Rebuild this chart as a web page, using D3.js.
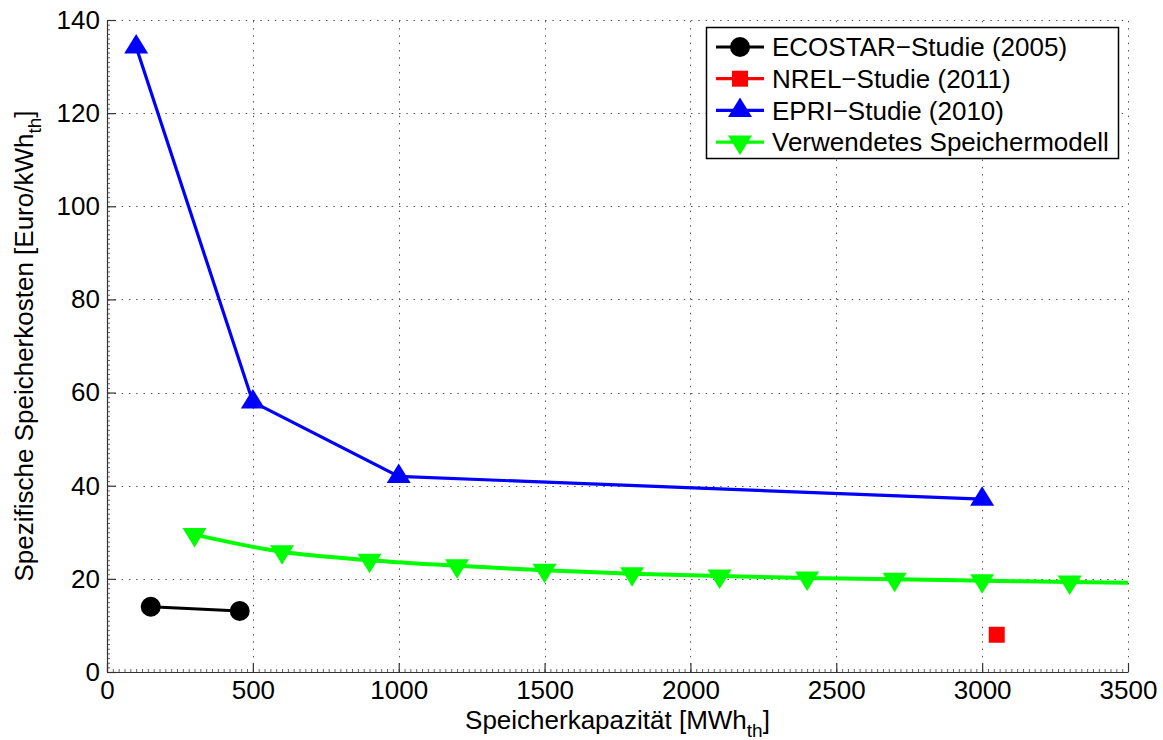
<!DOCTYPE html>
<html>
<head>
<meta charset="utf-8">
<script src="https://cdn.jsdelivr.net/npm/d3@7"></script>
<style>
  html, body { margin: 0; padding: 0; background: #fff; }
  svg { display: block; }
  text { font-family: "Liberation Sans", Arial, Helvetica, sans-serif; fill: #000; }
</style>
</head>
<body>
<svg id="chart" width="1163" height="740"></svg>
<script>
// ---- data ----
const xTicks = [0, 500, 1000, 1500, 2000, 2500, 3000, 3500];
const yTicks = [0, 20, 40, 60, 80, 100, 120, 140];

const ecostarX = [150, 455];
const ecostarY = [14.0, 13.1];

const nrelX = [3050];
const nrelY = [8];

const epriX = [100, 500, 1000, 3000];
const epriY = [134.2, 58.0, 42.0, 37.1];

const modelX = [300, 600, 900, 1200, 1500, 1800, 2100, 2400, 2700, 3000, 3300, 3500];
const modelY = [29.5, 25.8, 24.0, 22.8, 21.85, 21.1, 20.6, 20.2, 19.9, 19.6, 19.35, 19.15];
const modelHasMarker = [true, true, true, true, true, true, true, true, true, true, true, false];

const legendLabels = ["ECOSTAR\u2212Studie (2005)", "NREL\u2212Studie (2011)", "EPRI\u2212Studie (2010)", "Verwendetes Speichermodell"];

// ---- layout ----
const svg = d3.select("#chart");
const L = 107, R = 1128, T = 20, B = 672;
const x = d3.scaleLinear().domain([0, 3500]).range([L, R]);
const y = d3.scaleLinear().domain([0, 140]).range([B, T]);
const FS = 26;

// grid
const grid = svg.append("g").attr("stroke", "#555").attr("stroke-width", 1).attr("stroke-dasharray", "1.5,5.8");
grid.selectAll("line.gx").data(xTicks.slice(1)).join("line")
  .attr("x1", d => Math.round(x(d)) + 0.5).attr("x2", d => Math.round(x(d)) + 0.5)
  .attr("y1", B).attr("y2", T);
grid.selectAll("line.gy").data(yTicks.slice(1)).join("line")
  .attr("y1", d => Math.round(y(d)) + 0.5).attr("y2", d => Math.round(y(d)) + 0.5)
  .attr("x1", L).attr("x2", R);

// minor ticks
const minorX = d3.range(0, 3501, 20);
const minorY = d3.range(0, 141, 1);
const axc = "#333";
svg.append("g").attr("transform", `translate(0,${B})`)
  .call(d3.axisBottom(x).tickValues(minorX).tickSizeInner(-3).tickSizeOuter(0).tickFormat(""))
  .call(g => g.select(".domain").remove())
  .call(g => g.selectAll("line").attr("stroke", "#666"));
svg.append("g").attr("transform", `translate(${L},0)`)
  .call(d3.axisLeft(y).tickValues(minorY).tickSizeInner(-3).tickSizeOuter(0).tickFormat(""))
  .call(g => g.select(".domain").remove())
  .call(g => g.selectAll("line").attr("stroke", "#666"));

// major axes
const xAxis = svg.append("g").attr("transform", `translate(0,${B})`)
  .call(d3.axisBottom(x).tickValues(xTicks).tickSizeInner(-9).tickSizeOuter(0).tickPadding(9).tickFormat(d3.format("d")));
const yAxis = svg.append("g").attr("transform", `translate(${L},0)`)
  .call(d3.axisLeft(y).tickValues(yTicks).tickSizeInner(-9).tickSizeOuter(0).tickPadding(7).tickFormat(d3.format("d")));
[xAxis, yAxis].forEach(g => {
  g.select(".domain").attr("stroke", axc).attr("stroke-width", 1.2);
  g.selectAll(".tick line").attr("stroke", axc).attr("stroke-width", 1.2);
  g.selectAll(".tick text").attr("font-size", FS).attr("font-family", '"Liberation Sans", Arial, sans-serif').attr("fill", "#000");
});

// axis labels
const xl = svg.append("text").attr("x", (L + R) / 2).attr("y", 729).attr("text-anchor", "middle").attr("font-size", FS);
xl.append("tspan").text("Speicherkapazität [MWh");
xl.append("tspan").attr("font-size", 19).attr("dy", 8).text("th");
xl.append("tspan").attr("dy", -8).text("]");

const yl = svg.append("text").attr("transform", `translate(33,${(T + B) / 2}) rotate(-90)`).attr("text-anchor", "middle").attr("font-size", FS);
yl.append("tspan").text("Spezifische Speicherkosten [Euro/kWh");
yl.append("tspan").attr("font-size", 19).attr("dy", 8).text("th");
yl.append("tspan").attr("dy", -8).text("]");

// marker shapes
const triW = 24, triH = 19.5;
const triUp = `M0,${-2 * triH / 3}L${triW / 2},${triH / 3}L${-triW / 2},${triH / 3}Z`;
const triDown = `M0,${2 * triH / 3}L${triW / 2},${-triH / 3}L${-triW / 2},${-triH / 3}Z`;

// series
const line = d3.line().x(d => x(d[0])).y(d => y(d[1]));
const curveLine = d3.line().x(d => x(d[0])).y(d => y(d[1])).curve(d3.curveMonotoneX);

const modelPts = modelX.map((v, i) => [v, modelY[i]]);
svg.append("path").attr("d", curveLine(modelPts)).attr("fill", "none").attr("stroke", "#00ff00").attr("stroke-width", 4);
svg.selectAll("path.mdl").data(modelPts.filter((d, i) => modelHasMarker[i])).join("path")
  .attr("d", triDown).attr("fill", "#00ff00")
  .attr("transform", d => `translate(${x(d[0])},${y(d[1])})`);

const epriPts = epriX.map((v, i) => [v, epriY[i]]);
svg.append("path").attr("d", line(epriPts)).attr("fill", "none").attr("stroke", "#0000ff").attr("stroke-width", 3.2);
svg.selectAll("path.epri").data(epriPts).join("path")
  .attr("d", triUp).attr("fill", "#0000ff")
  .attr("transform", d => `translate(${x(d[0])},${y(d[1])})`);

const ecoPts = ecostarX.map((v, i) => [v, ecostarY[i]]);
svg.append("path").attr("d", line(ecoPts)).attr("fill", "none").attr("stroke", "#000").attr("stroke-width", 3);
svg.selectAll("circle.eco").data(ecoPts).join("circle")
  .attr("cx", d => x(d[0])).attr("cy", d => y(d[1])).attr("r", 10).attr("fill", "#000");

const nrelPts = nrelX.map((v, i) => [v, nrelY[i]]);
svg.selectAll("rect.nrel").data(nrelPts).join("rect")
  .attr("x", d => x(d[0]) - 8).attr("y", d => y(d[1]) - 8).attr("width", 16).attr("height", 16).attr("fill", "#ff0000");

// legend
const lg = svg.append("g");
lg.append("rect").attr("x", 706.5).attr("y", 27.5).attr("width", 412).attr("height", 131)
  .attr("fill", "#fff").attr("stroke", "#000").attr("stroke-width", 1.5);
const legColors = ["#000", "#ff0000", "#0000ff", "#00ff00"];
const legShapes = ["circle", "square", "up", "down"];
legendLabels.forEach((lab, i) => {
  const cy = 47 + i * 31.7;
  lg.append("line").attr("x1", 716).attr("x2", 764).attr("y1", cy).attr("y2", cy)
    .attr("stroke", legColors[i]).attr("stroke-width", 3.2);
  const sh = legShapes[i];
  if (sh === "circle") lg.append("circle").attr("cx", 740).attr("cy", cy).attr("r", 10).attr("fill", legColors[i]);
  else if (sh === "square") lg.append("rect").attr("x", 732).attr("y", cy - 8).attr("width", 16).attr("height", 16).attr("fill", legColors[i]);
  else lg.append("path").attr("d", sh === "up" ? triUp : triDown).attr("fill", legColors[i]).attr("transform", `translate(740,${cy})`);
  lg.append("text").attr("x", 772).attr("y", cy).attr("dy", "0.35em").attr("font-size", FS).text(lab);
});
</script>
</body>
</html>
